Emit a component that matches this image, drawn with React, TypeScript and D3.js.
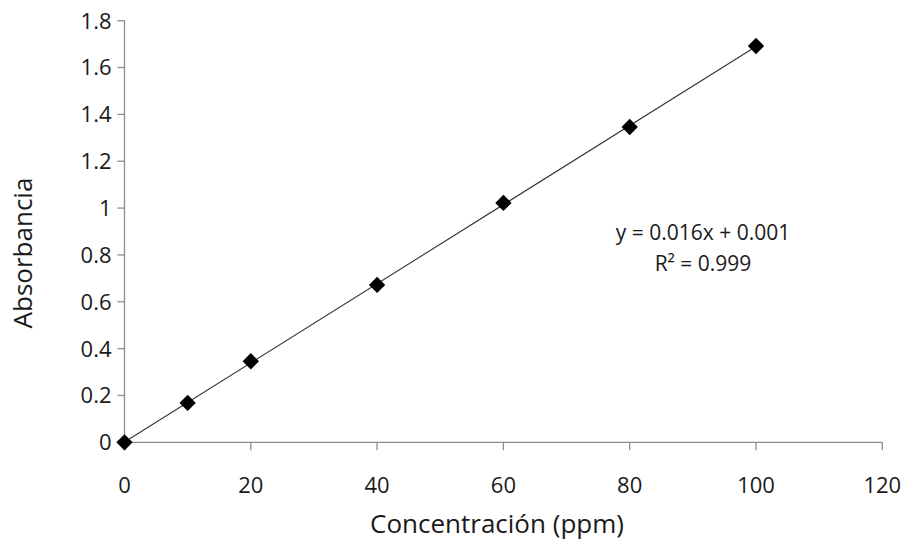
import React from "react";
import * as d3 from "d3";

const concentrations = [0, 10, 20, 40, 60, 80, 100];
const absorbances = [0, 0.168, 0.346, 0.672, 1.022, 1.346, 1.692];
const xTicks = [0, 20, 40, 60, 80, 100, 120];
const yTicks = [0, 0.2, 0.4, 0.6, 0.8, 1, 1.2, 1.4, 1.6, 1.8];
const equationLines = ["y = 0.016x + 0.001", "R² = 0.999"];

export default function App() {
  const W = 907, H = 546;
  const x = d3.scaleLinear().domain([0, 120]).range([124.5, 882.3]);
  const y = d3.scaleLinear().domain([0, 1.8]).range([442.3, 20.7]);
  const font = "'Open Sans', sans-serif";
  const axisColor = "#8c8c8c";
  const textColor = "#1a1a1a";

  const n = concentrations.length;
  const mx = d3.mean(concentrations)!;
  const my = d3.mean(absorbances)!;
  let sxy = 0, sxx = 0;
  for (let i = 0; i < n; i++) {
    sxy += (concentrations[i] - mx) * (absorbances[i] - my);
    sxx += (concentrations[i] - mx) ** 2;
  }
  const slope = sxy / sxx;
  const intercept = my - slope * mx;
  const x0 = d3.min(concentrations)!, x1 = d3.max(concentrations)!;

  const diamond = d3.symbol().type(d3.symbolDiamond2).size(170)()!;

  return (
    <svg width={W} height={H} style={{ position: "absolute", left: 0, top: 0, background: "#fff" }}>
      <rect width={W} height={H} fill="#fff" />
      {/* axes */}
      <line x1={x(0)} x2={x(0)} y1={y(1.8)} y2={y(0)} stroke={axisColor} strokeWidth={1.3} />
      <line x1={x(0)} x2={x(120)} y1={y(0)} y2={y(0)} stroke={axisColor} strokeWidth={1.3} />
      {yTicks.map((t) => (
        <g key={"y" + t}>
          <line x1={x(0) - 7} x2={x(0)} y1={y(t)} y2={y(t)} stroke={axisColor} strokeWidth={1.3} />
          <text x={x(0) - 13} y={y(t)} dy="0.36em" textAnchor="end" fontFamily={font} fontSize={22} fill={textColor}>
            {d3.format("~g")(t)}
          </text>
        </g>
      ))}
      {xTicks.map((t) => (
        <g key={"x" + t}>
          <line x1={x(t)} x2={x(t)} y1={y(0)} y2={y(0) + 8} stroke={axisColor} strokeWidth={1.3} />
          <text x={x(t)} y={485} dy="0.36em" textAnchor="middle" fontFamily={font} fontSize={22} fill={textColor}>
            {t}
          </text>
        </g>
      ))}
      {/* trendline */}
      <line
        x1={x(x0)} y1={y(slope * x0 + intercept)}
        x2={x(x1)} y2={y(slope * x1 + intercept)}
        stroke="#333" strokeWidth={1.1}
      />
      {/* points */}
      {concentrations.map((c, i) => (
        <path key={"p" + i} d={diamond} transform={`translate(${x(c)},${y(absorbances[i])})`} fill="#000" />
      ))}
      {/* equation */}
      {equationLines.map((l, i) => (
        <text key={"e" + i} x={703} y={232 + i * 31} dy="0.36em" textAnchor="middle" fontFamily={font} fontSize={21} fill={textColor}>
          {l}
        </text>
      ))}
      {/* titles */}
      <text x={497} y={524} dy="0.36em" textAnchor="middle" fontFamily={font} fontSize={26} fill={textColor}>
        Concentración (ppm)
      </text>
      <text transform={`translate(23,253) rotate(-90)`} dy="0.36em" textAnchor="middle" fontFamily={font} fontSize={26} fill={textColor}>
        Absorbancia
      </text>
    </svg>
  );
}
